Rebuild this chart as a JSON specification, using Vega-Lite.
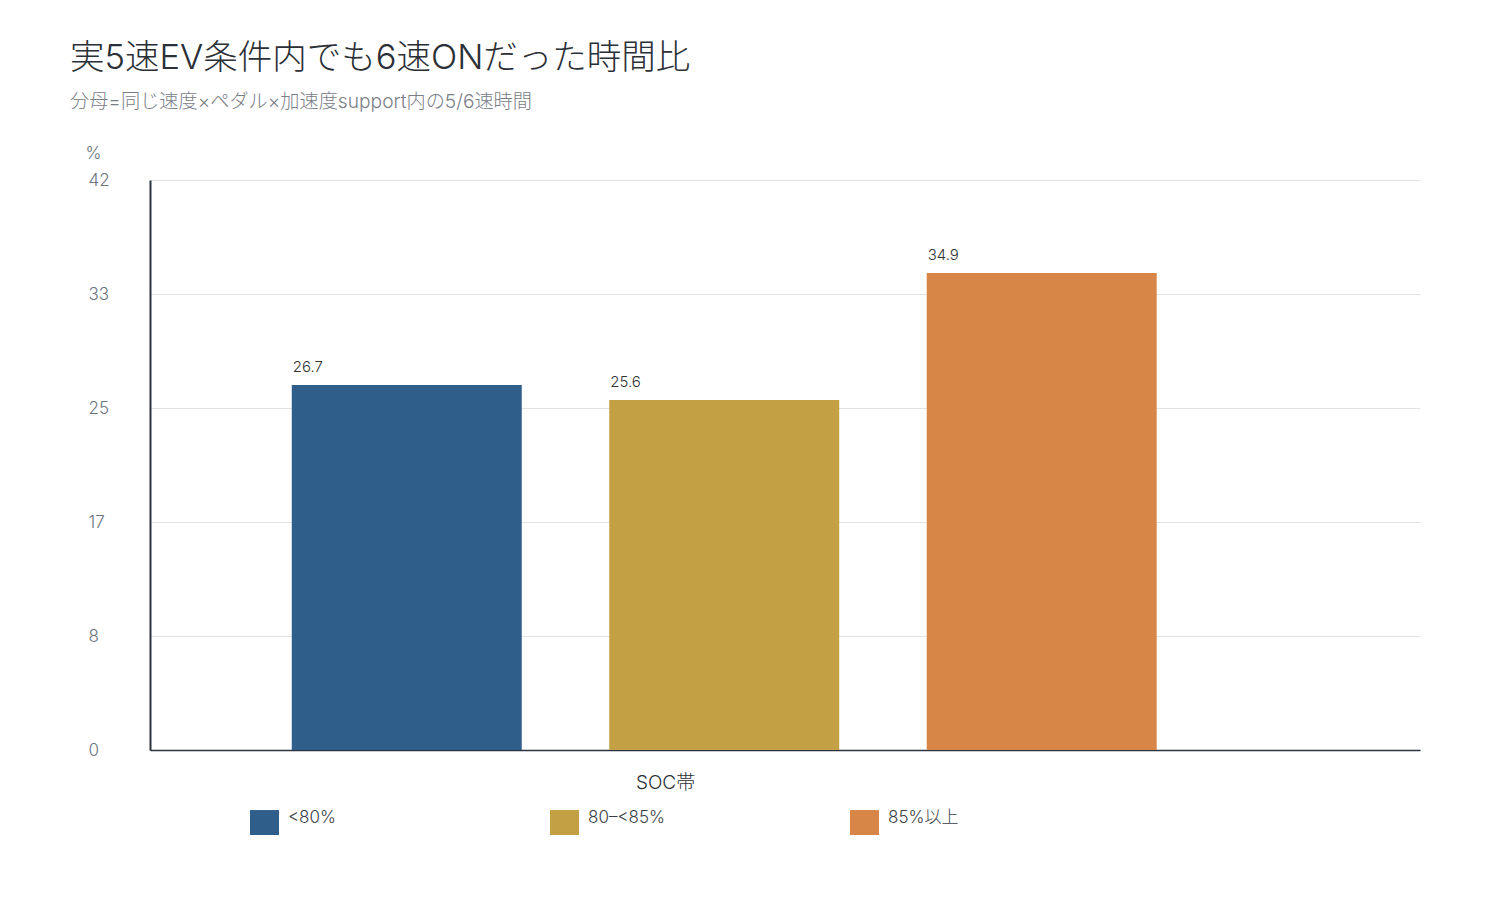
{
  "$schema": "https://vega.github.io/schema/vega-lite/v6.json",
  "width": 1270,
  "height": 570,
  "autosize": {"type": "none"},
  "padding": {"left": 150, "top": 180, "right": 80, "bottom": 150},
  "background": "white",
  "title": {
    "text": "実5速EV条件内でも6速ONだった時間比",
    "subtitle": "分母=同じ速度×ペダル×加速度support内の5/6速時間",
    "anchor": "start",
    "frame": "group",
    "dx": -80,
    "dy": -27,
    "fontSize": 34.5,
    "fontWeight": 300,
    "color": "#2b2f36",
    "subtitleFontSize": 19.2,
    "subtitleFontWeight": 300,
    "subtitleColor": "#7a8088",
    "subtitlePadding": 16
  },
  "data": {
    "values": [
      {"soc": "<80%", "value": 26.7},
      {"soc": "80–<85%", "value": 25.6},
      {"soc": "85%以上", "value": 34.9}
    ]
  },
  "layer": [
    {
      "mark": {"type": "bar"},
      "encoding": {
        "x": {
          "field": "soc",
          "type": "nominal",
          "sort": null,
          "scale": {"paddingInner": 0.2756, "paddingOuter": 0.638, "align": 0.35},
          "axis": {
            "title": "SOC帯",
            "labels": false,
            "ticks": false,
            "domainColor": "#2b3340",
            "domainWidth": 1.5,
            "titleFontSize": 19,
            "titleFontWeight": 300,
            "titleColor": "#2b2f36",
            "titleX": 515,
            "titleY": 32,
            "titleAlign": "center",
            "titleBaseline": "middle"
          }
        },
        "y": {
          "field": "value",
          "type": "quantitative",
          "scale": {"domain": [0, 41.7], "nice": false, "zero": true},
          "axis": {
            "title": "%",
            "titleAngle": 0,
            "titleX": -65,
            "titleY": -27,
            "titleAlign": "left",
            "titleBaseline": "middle",
            "titleFontSize": 17,
            "titleFontWeight": 300,
            "titleColor": "#6b7480",
            "values": [0, 8.34, 16.68, 25.02, 33.36, 41.7],
            "format": ".0f",
            "labelAlign": "left",
            "labelBaseline": "middle",
            "labelPadding": 62,
            "labelFontSize": 17,
            "labelFontWeight": 300,
            "labelColor": "#6b7480",
            "ticks": false,
            "tickSize": 0,
            "domainColor": "#2b3340",
            "domainWidth": 2,
            "grid": true,
            "gridColor": "#e2e2e2",
            "gridWidth": 1
          }
        },
        "color": {
          "field": "soc",
          "type": "nominal",
          "sort": null,
          "scale": {"domain": ["<80%", "80–<85%", "85%以上"], "range": ["#2f5e8a", "#c4a045", "#d88548"]},
          "legend": {
            "orient": "none",
            "legendX": 100,
            "legendY": 628,
            "direction": "horizontal",
            "columns": 3,
            "gridAlign": "all",
            "columnPadding": 185,
            "title": null,
            "symbolType": "M-1,-0.86H1V0.86H-1Z",
            "symbolSize": 841,
            "symbolStrokeWidth": 0,
            "symbolOpacity": 1,
            "labelFontSize": 17,
            "labelFontWeight": 300,
            "labelColor": "#3a3f47",
            "labelOffset": 9,
            "labelBaseline": "alphabetic"
          }
        }
      }
    },
    {
      "mark": {"type": "text", "align": "left", "baseline": "middle", "dx": 1, "dy": -18, "fontSize": 15, "fontWeight": 300, "color": "#333333"},
      "encoding": {
        "x": {"field": "soc", "type": "nominal", "sort": null, "bandPosition": 0},
        "y": {"field": "value", "type": "quantitative"},
        "text": {"field": "value", "type": "quantitative", "format": ".1f"}
      }
    }
  ],
  "config": {
    "font": "Inter, 'Noto Sans CJK JP', sans-serif",
    "view": {"stroke": null}
  }
}
